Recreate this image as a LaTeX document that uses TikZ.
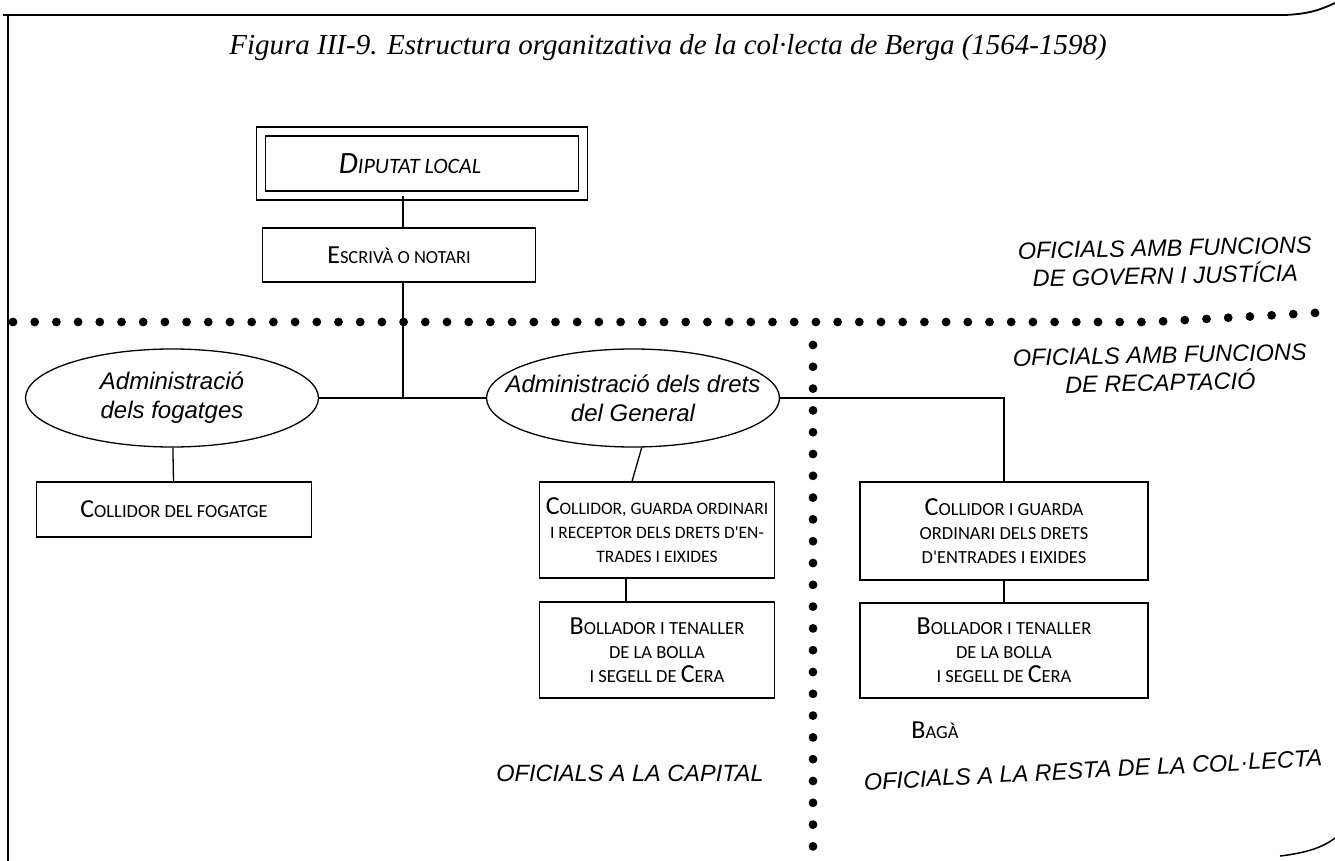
\documentclass[tikz,border=0pt]{standalone}
\usepackage{fontspec}
\setmainfont{Liberation Sans}
\newfontfamily\titlefont{Liberation Serif}
\newfontfamily\capfont{Carlito}
\usetikzlibrary{shapes.geometric}
\newcommand\bc[1]{{\fontsize{26}{26}\selectfont #1}}
\tikzset{
  officebox/.style={draw,line width=1.3pt,align=center,inner sep=0pt,
    font=\capfont\fontsize{18.5}{24}\selectfont},
  adminoval/.style={draw,line width=1.3pt,ellipse,align=center,inner xsep=-26pt,inner ysep=0pt,
    minimum width=293pt,minimum height=98pt,font=\itshape\fontsize{24}{29}\selectfont},
  arealabel/.style={align=center,font=\itshape\fontsize{23.5}{28}\selectfont},
  bigdot/.style={fill=black}
}
\begin{document}
\begin{tikzpicture}[x=1pt,y=-1pt]
  \useasboundingbox (0,0) rectangle (1335,861);
  \draw[line width=1.8pt] (3,15) -- (1285,15) .. controls (1310,14) and (1322,9) .. (1335,3);
  \draw[line width=1.3pt] (8,15) -- (8,861);
  \draw[line width=1.5pt] (1280,856) .. controls (1305,853) and (1322,848) .. (1335,838);
  \node (title) at (668,48) {\titlefont\itshape\fontsize{29}{28}\selectfont Figura III-9. Estructura organitzativa de la col·lecta de Berga (1564-1598)};
  \begin{scope}[every node/.style={officebox}]
  \node[double,double distance=7.5pt,minimum width=322pt,minimum height=64pt,
    font=\capfont\itshape\fontsize{22}{24}\selectfont] (dip) at (422,163.5) {{\fontsize{31}{31}\selectfont D}IPUTAT LOCAL\hspace*{24pt}};
  \node[minimum width=273pt,minimum height=54pt] (escr) at (399,255) {\bc{E}SCRIVÀ O NOTARI};
  \node[minimum width=275pt,minimum height=55pt] (fog) at (174,509.5) {\bc{C}OLLIDOR DEL FOGATGE};
  \node[minimum width=235pt,minimum height=96pt,font=\capfont\fontsize{17.5}{24}\selectfont] (coll) at (657,530) {\bc{C}OLLIDOR, GUARDA ORDINARI\\I RECEPTOR DELS DRETS D'EN-\\TRADES I EIXIDES};
  \node[minimum width=235pt,minimum height=96pt] (boll) at (657,650) {\bc{B}OLLADOR I TENALLER\\DE LA BOLLA\\I SEGELL DE \bc{C}ERA};
  \node[minimum width=288pt,minimum height=98pt] (collb) at (1004,531) {\bc{C}OLLIDOR I GUARDA\\ORDINARI DELS DRETS\\D'ENTRADES I EIXIDES};
  \node[minimum width=288pt,minimum height=95pt] (bollb) at (1004,650.5) {\bc{B}OLLADOR I TENALLER\\DE LA BOLLA\\I SEGELL DE \bc{C}ERA};
  \end{scope}
  \node[adminoval] (fogat) at (172,398) {Administració\\dels fogatges};
  \node[adminoval] (drets) at (633,398) {Administració dels drets\\del General};
  \coordinate (hub) at (403,398);
  \begin{scope}[every edge/.style={draw=black,line width=1.3pt}]
  \path (dip.south -| hub) edge (escr.north -| hub);
  \path (escr.south -| hub) edge (hub);
  \path (fogat) edge (drets);
  \path (fogat) edge (fog);
  \path (drets.-80) edge ([xshift=-25pt]coll.north);
  \path ([xshift=-31pt]coll.south) edge ([xshift=-31pt]boll.north);
  \path (collb) edge (bollb);
  \end{scope}
  \draw[line width=1.3pt] (drets.east) -| (collb.north);
  \foreach \i in {0,...,60}
    \fill[bigdot] ({13+\i*21.7},{322-max(0,13+\i*21.7-1150)*0.055}) circle (4.4pt);
  \foreach \j in {0,...,23}
    \fill[bigdot] (813,{345+\j*21.8}) circle (4.4pt);
  \node[arealabel,rotate=1.2] (gov) at (1165,262) {OFICIALS AMB FUNCIONS\\DE GOVERN I JUSTÍCIA};
  \node[arealabel,rotate=1.2] (rec) at (1160,369) {OFICIALS AMB FUNCIONS\\DE RECAPTACIÓ};
  \node[arealabel] (cap) at (630,773) {OFICIALS A LA CAPITAL};
  \node[arealabel,rotate=3] (rest) at (1093,770) {OFICIALS A LA RESTA DE LA COL·LECTA};
  \node[font=\capfont\fontsize{18.5}{24}\selectfont] (baga) at (935,730) {\bc{B}AGÀ};
\end{tikzpicture}
\end{document}
